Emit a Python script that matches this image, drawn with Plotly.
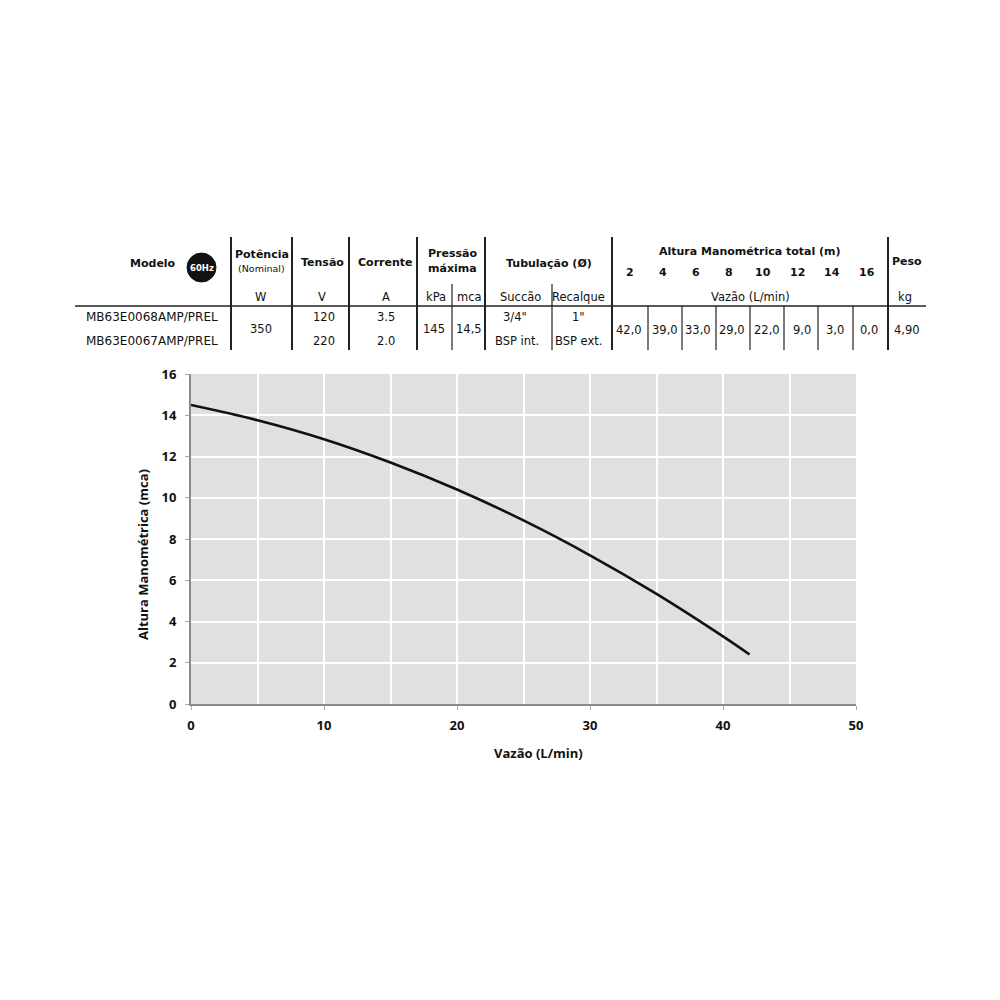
import plotly.graph_objects as go

# curva da bomba
vazao = [0, 5, 10, 15, 20, 25, 30, 35, 40, 42]
altura = [14.5, 13.76, 12.84, 11.71, 10.4, 8.9, 7.21, 5.34, 3.28, 2.4]

# tabela
modelos = ["MB63E0068AMP/PREL", "MB63E0067AMP/PREL"]
potencia = "350"
tensoes = ["120", "220"]
correntes = ["3.5", "2.0"]
pressao_kpa = "145"
pressao_mca = "14,5"
succao = ['3/4"', "BSP int."]
recalque = ['1"', "BSP ext."]
alturas_tab = ["2", "4", "6", "8", "10", "12", "14", "16"]
vazoes_tab = ["42,0", "39,0", "33,0", "29,0", "22,0", "9,0", "3,0", "0,0"]
peso = "4,90"

TFONT = "DejaVu Sans"
CFONT = "Open Sans"
OFF = 8  # margem do body da página


def px(x):
    return (x - OFF) / 1000


def py(y):
    return 1 - (y - OFF) / 1000


fig = go.Figure()

fig.add_trace(go.Scatter(
    x=vazao, y=altura, mode="lines",
    line=dict(color="#111", width=2.6, shape="spline", smoothing=1.0),
    showlegend=False, hoverinfo="skip",
))

ann = []
shapes = []


def txt(x, y, s, size=11.5, bold=False, color="#111", family=TFONT, angle=0):
    ann.append(dict(
        x=px(x), y=py(y), xref="paper", yref="paper", showarrow=False,
        text=f"<b>{s}</b>" if bold else s, xanchor="center", yanchor="middle",
        textangle=angle, font=dict(family=family, size=size, color=color),
    ))


def line(x0, y0, x1, y1, w=1.5, color="#222"):
    shapes.append(dict(type="line", xref="paper", yref="paper",
                       x0=px(x0), y0=py(y0), x1=px(x1), y1=py(y1),
                       line=dict(color=color, width=w)))


# linhas da tabela
TOP, MID, BOT = 237, 306, 350
for xv in [231, 292, 349, 417, 485, 612, 888]:
    line(xv, TOP, xv, BOT, w=2)
line(452, 284, 452, BOT, w=1.2)
line(552, 284, 552, BOT, w=1.2)
for xv in [648, 682, 716, 750, 784, 818, 853]:
    line(xv, MID, xv, BOT, w=1.2)
line(75, MID, 926, MID, w=1.5)

# cabeçalho
HB = 11
txt(153, 263, "Modelo", HB, True)
shapes.append(dict(type="circle", xref="paper", yref="paper",
                   x0=px(187), y0=py(253), x1=px(216), y1=py(282),
                   fillcolor="#111", line=dict(color="#111", width=1)))
txt(201.5, 267.5, "60Hz", 8.5, True, color="white")
txt(261.5, 254, "Potência", HB, True)
txt(261, 268, "(Nominal)", 9.5)
txt(322, 262, "Tensão", HB, True)
txt(385, 262, "Corrente", HB, True)
txt(452, 253, "Pressão", HB, True)
txt(452, 268, "máxima", HB, True)
txt(549, 263, "Tubulação (Ø)", HB, True)
txt(750, 251, "Altura Manométrica total (m)", HB, True)
alt_x = [630, 663, 696, 729, 763, 797, 832, 867]
for xv, h in zip(alt_x, alturas_tab):
    txt(xv, 272, h, HB, True)
txt(907, 261, "Peso", HB, True)

# unidades
units = [(260, "W"), (322, "V"), (386, "A"), (436, "kPa"), (469, "mca"),
         (520, "Succão"), (578, "Recalque"), (750, "Vazão (L/min)"), (905, "kg")]
for xv, u in units:
    txt(xv, 297, u, 11.5)

# dados
R1, R2, RM = 317, 341, 329
txt(152, R1, modelos[0], 12)
txt(152, R2, modelos[1], 12)
txt(261, RM, potencia)
txt(324, R1, tensoes[0])
txt(324, R2, tensoes[1])
txt(386, R1, correntes[0])
txt(386, R2, correntes[1])
txt(434, RM, pressao_kpa)
txt(469, RM, pressao_mca)
txt(515, R1, succao[0])
txt(517, R2, succao[1])
txt(578, R1, recalque[0])
txt(578, R2, recalque[1])
val_x = [629, 665, 698, 732, 767, 802, 835, 869]
for xv, v in zip(val_x, vazoes_tab):
    txt(xv, 330, v)
txt(907, 330, peso)

# títulos dos eixos
txt(538, 753, "Vazão (L/min)", 13, True, family=CFONT)
txt(143, 555, "Altura Manométrica (mca)", 13, True, family=CFONT, angle=-90)

fig.update_layout(
    width=1000, height=1000,
    margin=dict(l=0, r=0, t=0, b=0),
    paper_bgcolor="white",
    plot_bgcolor="#e0e0e0",
    showlegend=False,
    annotations=ann,
    shapes=shapes,
    font=dict(family=CFONT, color="#111"),
)

axis_common = dict(
    showline=True, linecolor="#8a8a8a", linewidth=2,
    ticks="outside", tickcolor="#aaa", ticklen=4, tickwidth=1,
    gridcolor="white", gridwidth=2, zeroline=False, automargin=False,
    tickfont=dict(family=CFONT, size=13, color="#111", weight="bold"),
)

fig.update_xaxes(
    domain=[px(191), px(856)], range=[0, 50], tickvals=[0, 10, 20, 30, 40, 50],
    minor=dict(dtick=5, showgrid=True, gridcolor="white", gridwidth=2),
    ticklabelstandoff=4,
    **axis_common,
)
fig.update_yaxes(
    domain=[py(704), py(374)], range=[0, 16], dtick=2,
    ticklabelstandoff=6,
    **axis_common,
)

fig.write_html("out.html")
